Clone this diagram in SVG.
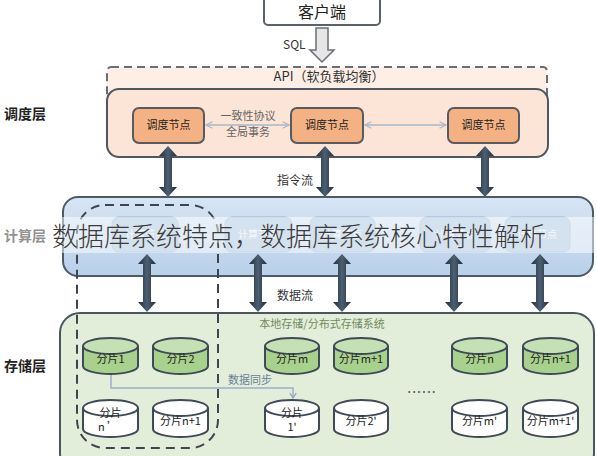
<svg xmlns="http://www.w3.org/2000/svg" width="597" height="456" viewBox="0 0 597 456">
<defs>
<style>
text{font-family:"Noto Sans CJK SC","Liberation Sans",sans-serif;}
.lbl{font-size:14px;font-weight:bold;fill:#222;}
.sn rect{fill:#f4b183;stroke:#555b62;stroke-width:2;}
.sn text{font-size:11px;fill:#222;text-anchor:middle;}
.cn rect{fill:#a9c3df;stroke:#98b2cf;stroke-width:1;}
.cn text{font-size:10px;fill:#ffffff;text-anchor:middle;opacity:0.8;}
.cy .body{stroke:#3e4a55;stroke-width:2;}
.g .body{fill:#a9d18e;}
.g .top{fill:#c5e0b4;stroke:#3e4a55;stroke-width:2;}
.w .body{fill:#ffffff;}
.w .top{fill:#ffffff;stroke:#3e4a55;stroke-width:2;}
.cy text{font-size:11px;fill:#222;text-anchor:middle;}
.thin{stroke:#a9b8c8;stroke-width:1.5;fill:none;marker-start:url(#ah);marker-end:url(#ah);}
.note{font-size:12px;fill:#333;}
</style>
<linearGradient id="ag" x1="0" y1="0" x2="1" y2="0">
<stop offset="0" stop-color="#1f2c3a"/><stop offset="0.5" stop-color="#4d5f72"/><stop offset="1" stop-color="#1f2c3a"/>
</linearGradient>
<linearGradient id="cg" x1="0" y1="0" x2="0" y2="1">
<stop offset="0" stop-color="#d7e5f4"/><stop offset="1" stop-color="#b9d0ea"/>
</linearGradient>
<marker id="ah" viewBox="0 0 10 10" refX="9" refY="5" markerWidth="8" markerHeight="8" orient="auto-start-reverse" markerUnits="userSpaceOnUse">
<path d="M1,1 L9,5 L1,9" fill="none" stroke="#a9b8c8" stroke-width="1.5"/>
</marker>
<marker id="sa" viewBox="0 0 10 10" refX="5" refY="9" markerWidth="8" markerHeight="8" orient="0" markerUnits="userSpaceOnUse">
<path d="M1,3 L5,9 L9,3" fill="none" stroke="#8fa6c0" stroke-width="1.5"/>
</marker>
</defs>

<!-- client -->
<g id="client">
<rect x="264" y="-6" width="116" height="31" rx="4" fill="#ffffff" stroke="#5b6168" stroke-width="2"/>
<text x="322" y="18" font-size="16" fill="#222" text-anchor="middle">客户端</text>
</g>

<!-- API -->
<g id="api">
<rect x="107" y="67" width="440" height="40" rx="4" fill="#fdeee6" stroke="#6a6f75" stroke-width="2" stroke-dasharray="8,5"/>
<text x="329" y="81" font-size="13" fill="#333" text-anchor="middle">API（软负载均衡）</text>
</g>

<!-- layers -->
<g id="sched-layer">
<rect x="107" y="89" width="441" height="68" rx="12" fill="#fce4d6" stroke="#4e5862" stroke-width="2"/>
</g>
<g id="compute-layer">
<rect x="63" y="197" width="530" height="79" rx="15" fill="url(#cg)" stroke="#4e5a66" stroke-width="2"/>
</g>
<g id="storage-layer">
<rect x="60" y="313" width="534" height="160" rx="20" fill="#e2eed9" stroke="#4a5560" stroke-width="2"/>
<text x="322" y="328" font-size="11" fill="#728a5e" text-anchor="middle">本地存储/分布式存储系统</text>
</g>

<!-- layer labels -->
<g id="labels">
<text class="lbl" x="4" y="119">调度层</text>
<text class="lbl" x="4" y="241" font-size="12" fill="#555">计算层</text>
<text class="lbl" x="4" y="371">存储层</text>
</g>

<!-- scheduling nodes -->
<g id="sched1" class="sn"><rect x="133" y="108" width="71" height="35" rx="6"/><text x="168.5" y="129">调度节点</text></g>
<g id="sched2" class="sn"><rect x="291" y="108" width="72" height="35" rx="6"/><text x="327" y="129">调度节点</text></g>
<g id="sched3" class="sn"><rect x="448" y="108" width="71" height="35" rx="6"/><text x="483.5" y="129">调度节点</text></g>

<!-- compute nodes -->
<g id="comp1" class="cn"><rect x="112" y="217" width="66" height="35" rx="7"/><text x="145" y="238">计算节点</text></g>
<g id="comp2" class="cn"><rect x="225" y="217" width="67" height="35" rx="7"/><text x="258" y="238">计算节点</text></g>
<g id="comp3" class="cn"><rect x="310" y="217" width="65" height="35" rx="7"/><text x="342" y="238">计算节点</text></g>
<g id="comp4" class="cn"><rect x="420" y="217" width="70" height="35" rx="7"/><text x="455" y="238">计算节点</text></g>
<g id="comp5" class="cn"><rect x="505" y="217" width="65" height="35" rx="7"/><text x="537" y="238">计算节点</text></g>

<!-- group outline -->
<g id="group">
<rect x="77" y="205" width="141" height="243" rx="28" fill="none" stroke="#3d4650" stroke-width="2" stroke-dasharray="9,6"/>
</g>

<!-- storage shards -->
<g id="s1" class="cy g"><path class="body" d="M83,346 v20 a27.5,8 0 0 0 55,0 v-20"/><ellipse class="top" cx="110.5" cy="346" rx="27.5" ry="8"/><text x="110.5" y="363">分片1</text></g>
<g id="s2" class="cy g"><path class="body" d="M153,346 v20 a27.5,8 0 0 0 55,0 v-20"/><ellipse class="top" cx="180.5" cy="346" rx="27.5" ry="8"/><text x="180.5" y="363">分片2</text></g>
<g id="sm" class="cy g"><path class="body" d="M265,346 v20 a27,8 0 0 0 54,0 v-20"/><ellipse class="top" cx="292" cy="346" rx="27" ry="8"/><text x="292" y="363">分片m</text></g>
<g id="sm1" class="cy g"><path class="body" d="M334,346 v20 a27,8 0 0 0 54,0 v-20"/><ellipse class="top" cx="361" cy="346" rx="27" ry="8"/><text x="361" y="363">分片m+1</text></g>
<g id="sn" class="cy g"><path class="body" d="M452,346 v20 a27.5,8 0 0 0 55,0 v-20"/><ellipse class="top" cx="479.5" cy="346" rx="27.5" ry="8"/><text x="479.5" y="363">分片n</text></g>
<g id="sn1" class="cy g"><path class="body" d="M523,346 v20 a27.5,8 0 0 0 55,0 v-20"/><ellipse class="top" cx="550.5" cy="346" rx="27.5" ry="8"/><text x="550.5" y="363">分片n+1</text></g>

<g id="rn" class="cy w"><path class="body" d="M83,408 v21 a27.5,8 0 0 0 55,0 v-21"/><ellipse class="top" cx="110.5" cy="408" rx="27.5" ry="8"/><text x="110.5" y="417">分片</text><text x="108" y="431">n  ’</text></g>
<g id="rn1" class="cy w"><path class="body" d="M153,408 v21 a27.5,8 0 0 0 55,0 v-21"/><ellipse class="top" cx="180.5" cy="408" rx="27.5" ry="8"/><text x="180.5" y="425">分片n+1</text></g>
<g id="r1" class="cy w"><path class="body" d="M265,408 v21 a27,8 0 0 0 54,0 v-21"/><ellipse class="top" cx="292" cy="408" rx="27" ry="8"/><text x="292" y="417">分片</text><text x="292" y="431">1'</text></g>
<g id="r2" class="cy w"><path class="body" d="M334,408 v21 a27,8 0 0 0 54,0 v-21"/><ellipse class="top" cx="361" cy="408" rx="27" ry="8"/><text x="361" y="425">分片2'</text></g>
<g id="rm" class="cy w"><path class="body" d="M452,408 v21 a27.5,8 0 0 0 55,0 v-21"/><ellipse class="top" cx="479.5" cy="408" rx="27.5" ry="8"/><text x="479.5" y="425">分片m'</text></g>
<g id="rm1" class="cy w"><path class="body" d="M523,408 v21 a27.5,8 0 0 0 55,0 v-21"/><ellipse class="top" cx="550.5" cy="408" rx="27.5" ry="8"/><text x="550.5" y="425">分片m+1'</text></g>

<g id="dots"><text x="422" y="393" font-size="14" fill="#556" text-anchor="middle" letter-spacing="1">......</text></g>

<!-- connectors -->
<g id="connectors">
<path d="M316,28 h12 v22 h6 l-12,12 l-12,-12 h6 z" fill="#e6e6e6" stroke="#6b6f74" stroke-width="1.5"/>
<text class="note" x="283" y="49" font-size="13" fill="#444">SQL</text>

<line class="thin" x1="206" y1="125" x2="289" y2="125"/>
<line class="thin" x1="365" y1="125" x2="446" y2="125"/>
<text x="248" y="120" font-size="11" fill="#666" text-anchor="middle">一致性协议</text>
<text x="248" y="136" font-size="11" fill="#666" text-anchor="middle">全局事务</text>

<path d="M168,146 l9,10 h-5 v31 h5 l-9,10 l-9,-10 h5 v-31 h-5 z" fill="url(#ag)"/>
<path d="M325,146 l9,10 h-5 v31 h5 l-9,10 l-9,-10 h5 v-31 h-5 z" fill="url(#ag)"/>
<path d="M485,146 l9,10 h-5 v31 h5 l-9,10 l-9,-10 h5 v-31 h-5 z" fill="url(#ag)"/>
<text class="note" x="277" y="185">指令流</text>

<path d="M147,254 l9,10 h-5 v38 h5 l-9,10 l-9,-10 h5 v-38 h-5 z" fill="url(#ag)"/>
<path d="M258,254 l9,10 h-5 v38 h5 l-9,10 l-9,-10 h5 v-38 h-5 z" fill="url(#ag)"/>
<path d="M342,254 l9,10 h-5 v38 h5 l-9,10 l-9,-10 h5 v-38 h-5 z" fill="url(#ag)"/>
<path d="M454,254 l9,10 h-5 v38 h5 l-9,10 l-9,-10 h5 v-38 h-5 z" fill="url(#ag)"/>
<path d="M540,254 l9,10 h-5 v38 h5 l-9,10 l-9,-10 h5 v-38 h-5 z" fill="url(#ag)"/>
<text class="note" x="277" y="300">数据流</text>

<path d="M111,375 V388 H293 V398" fill="none" stroke="#9ab0c8" stroke-width="1.5" marker-end="url(#sa)"/>
<text x="228" y="384" font-size="11" fill="#6a7f99">数据同步</text>
</g>

<!-- watermark -->
<g id="watermark">
<rect x="0" y="217" width="597" height="36" fill="#ffffff" opacity="0.5"/>
<text x="52" y="246" font-size="26" font-weight="300" fill="#3a3a3a">数据库系统特点，数据库系统核心特性解析</text>
</g>
</svg>
